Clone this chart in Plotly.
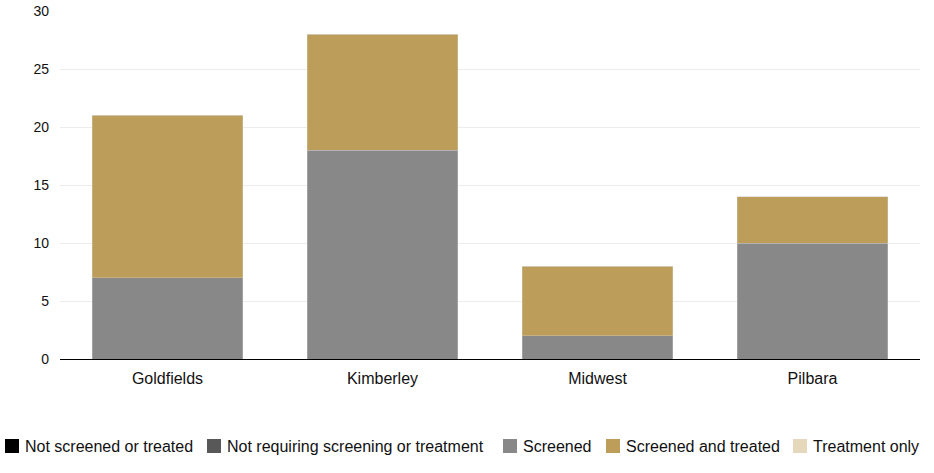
import plotly.graph_objects as go

regions = ["Goldfields", "Kimberley", "Midwest", "Pilbara"]
series_names = ["Not screened or treated", "Not requiring screening or treatment",
                "Screened", "Screened and treated", "Treatment only"]
not_screened = [0, 0, 0, 0]
not_requiring = [0, 0, 0, 0]
screened = [7, 18, 2, 10]
screened_treated = [14, 10, 6, 4]
treatment_only = [0, 0, 0, 0]
colors = ["#000000", "#585858", "#888888", "#BC9E5A", "#E6D8BB"]

values = [not_screened, not_requiring, screened, screened_treated, treatment_only]

W, H = 934, 473
ML, MR, MT, MB = 60, 14, 11, 114
PW, PH = W - ML - MR, H - MT - MB

fig = go.Figure()
for name, vals, col in zip(series_names, values, colors):
    fig.add_trace(go.Bar(
        x=regions, y=vals, name=name,
        marker=dict(color=col, line=dict(color="rgba(220,220,220,0.5)", width=0.6)),
        hoverinfo="x+y+name", showlegend=False,
    ))

# custom legend (swatch + label), pixel positions converted to paper coords
legend_left_px = [5, 207, 503, 606, 793]
legend_y_px = 446
sw = 14
def px_x(p):
    return (p - ML) / PW
def px_y(p):
    return (H - MB - p) / PH

shapes = []
annotations = []
for name, col, lx in zip(series_names, colors, legend_left_px):
    shapes.append(dict(type="rect", xref="paper", yref="paper",
                       x0=px_x(lx), x1=px_x(lx + sw),
                       y0=px_y(legend_y_px + sw / 2), y1=px_y(legend_y_px - sw / 2),
                       fillcolor=col, line=dict(width=0)))
    annotations.append(dict(text=name, xref="paper", yref="paper",
                            x=px_x(lx + sw + 4), y=px_y(legend_y_px),
                            xanchor="left", yanchor="middle", showarrow=False,
                            font=dict(size=16, family="Liberation Sans, Arial, sans-serif", color="#111")))

fig.update_layout(
    barmode="stack",
    bargap=0.3,
    width=W, height=H,
    margin=dict(l=ML, r=MR, t=MT, b=MB, autoexpand=False),
    plot_bgcolor="white", paper_bgcolor="white",
    font=dict(family="Liberation Sans, Arial, sans-serif", size=16, color="#111"),
    showlegend=False,
    shapes=shapes,
    annotations=annotations,
    xaxis=dict(showline=True, linecolor="#000", linewidth=1, ticks="", ticklabelstandoff=5,
               tickfont=dict(size=16, family="Liberation Sans, Arial, sans-serif", color="#111")),
    yaxis=dict(range=[0, 30], dtick=5, showgrid=True, gridcolor="#ececec", gridwidth=1,
               zeroline=False, ticks="", ticklabelstandoff=10,
               tickfont=dict(size=14, family="Liberation Sans, Arial, sans-serif", color="#111")),
)

fig.write_html("out.html", config={"displayModeBar": False},
               post_script="document.body.style.margin='0';document.body.style.overflow='hidden';")
